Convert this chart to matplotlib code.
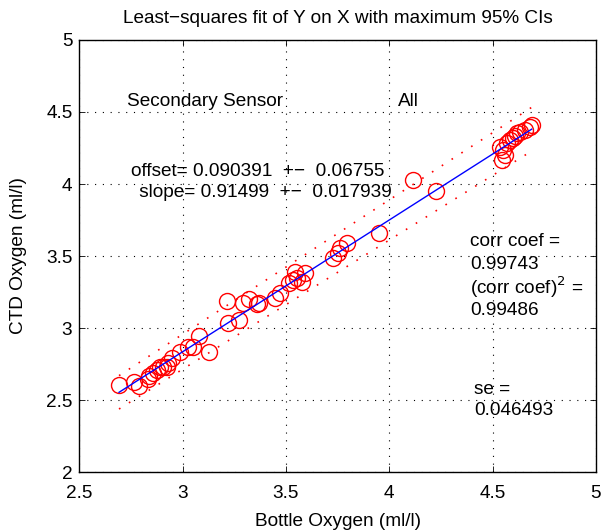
import numpy as np
import matplotlib
matplotlib.use("Agg")
import matplotlib.pyplot as plt

plt.rcParams['font.family'] = ['Liberation Sans', 'DejaVu Sans']

# Data
bottle_oxygen = [2.692, 2.766, 2.789, 2.834, 2.839, 2.858, 2.874, 2.890, 2.906, 2.923,
                 2.931, 2.947, 2.987, 3.027, 3.052, 3.079, 3.127, 3.218, 3.213, 3.273,
                 3.291, 3.322, 3.358, 3.371, 3.447, 3.471, 3.516, 3.552, 3.576, 3.592,
                 3.544, 3.535, 3.729, 3.753, 3.761, 3.797, 3.951, 4.116, 4.226,
                 4.535, 4.550, 4.544, 4.568, 4.584, 4.598, 4.616, 4.632, 4.656, 4.680,
                 4.689, 4.560, 4.610]
ctd_oxygen = [2.604, 2.627, 2.597, 2.644, 2.667, 2.685, 2.708, 2.731, 2.731, 2.731,
              2.755, 2.790, 2.831, 2.870, 2.870, 2.944, 2.833, 3.037, 3.188, 3.056,
              3.172, 3.199, 3.165, 3.172, 3.206, 3.241, 3.310, 3.345, 3.322, 3.380,
              3.391, 3.333, 3.484, 3.519, 3.553, 3.588, 3.658, 4.028, 3.953,
              4.259, 4.236, 4.167, 4.283, 4.306, 4.319, 4.352, 4.363, 4.375, 4.398,
              4.410, 4.200, 4.330]

offset, offset_ci = 0.090391, 0.06755
slope, slope_ci = 0.91499, 0.017939
corr_coef = 0.99743
corr_coef_sq = 0.99486
se = 0.046493

x_ticks = [2.5, 3, 3.5, 4, 4.5, 5]
y_ticks = [2, 2.5, 3, 3.5, 4, 4.5, 5]

fig = plt.figure(figsize=(6.15, 5.31), dpi=100)
ax = fig.add_axes([0.129, 0.111, 0.840, 0.8137])

x = np.array(bottle_oxygen)
ax.plot(x, ctd_oxygen, 'o', mfc='none', mec='red', ms=11.5, mew=1.0, zorder=3)

xl = np.array([x.min(), x.max()])
ax.plot(xl, offset + slope * xl, color='blue', lw=1.0, zorder=4)
ax.plot(xl, (offset + offset_ci) + (slope + slope_ci) * xl, color='red',
        lw=1.2, linestyle=(0, (1, 6)), zorder=2)
ax.plot(xl, (offset - offset_ci) + (slope - slope_ci) * xl, color='red',
        lw=1.2, linestyle=(0, (1, 6)), zorder=2)

ax.set_xlim(2.5, 5)
ax.set_ylim(2, 5)
ax.set_xticks(x_ticks)
ax.set_xticklabels(['2.5', '3', '3.5', '4', '4.5', '5'])
ax.set_yticks(y_ticks)
ax.set_yticklabels(['2', '2.5', '3', '3.5', '4', '4.5', '5'])
fs = 13.7
ax.tick_params(axis='x', pad=9)
ax.tick_params(axis='y', pad=5)
ax.tick_params(direction='in', length=4, width=0.6, labelsize=fs,
               top=True, right=True)
ax.grid(True, color='black', linestyle=(0, (1, 6)), lw=0.8)
for s in ax.spines.values():
    s.set_linewidth(1.0)

ax.set_xlabel('Bottle Oxygen (ml/l)', fontsize=fs, labelpad=8)
ax.set_ylabel('CTD Oxygen (ml/l)', fontsize=fs, labelpad=14)
ax.set_title('Least\u2212squares fit of Y on X with maximum 95% CIs', fontsize=fs, pad=12)

ax.text(2.731, 4.57, 'Secondary Sensor', fontsize=fs, va='center')
ax.text(4.04, 4.57, 'All', fontsize=fs, va='center')
ax.text(2.75, 4.09, 'offset= %g  +\u2212  %g' % (offset, offset_ci), fontsize=fs, va='center')
ax.text(2.765, 3.94, ' slope= %g  +\u2212  %g' % (slope, slope_ci), fontsize=fs, va='center')
ax.text(4.39, 3.60, 'corr coef =', fontsize=fs, va='center')
ax.text(4.39, 3.44, '%g' % corr_coef, fontsize=fs, va='center')
ax.text(4.39, 3.28, '(corr coef)$^2$ =', fontsize=fs, va='center')
ax.text(4.39, 3.125, '%g' % corr_coef_sq, fontsize=fs, va='center')
ax.text(4.41, 2.57, 'se =', fontsize=fs, va='center')
ax.text(4.41, 2.43, '%g' % se, fontsize=fs, va='center')

fig.savefig('out.png', dpi=100)
